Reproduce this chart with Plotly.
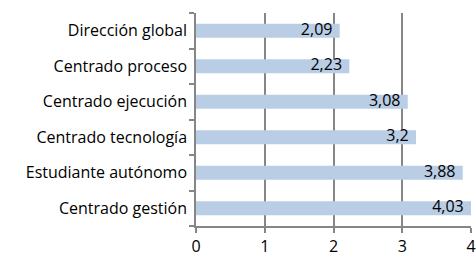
import plotly.graph_objects as go

categories = ["Centrado gestión", "Estudiante autónomo", "Centrado tecnología",
              "Centrado ejecución", "Centrado proceso", "Dirección global"]
values = [4.03, 3.88, 3.2, 3.08, 2.23, 2.09]
labels = ["4,03", "3,88", "3,2", "3,08", "2,23", "2,09"]
x_ticks = [0, 1, 2, 3, 4]
x_max = 4

FONT = "Open Sans"

fig = go.Figure()
fig.add_trace(go.Bar(
    y=categories, x=values, orientation="h",
    marker=dict(color="#B9CDE5", line=dict(width=0)),
    cliponaxis=True, hoverinfo="skip",
))
fig.add_trace(go.Scatter(
    y=categories, x=[min(v, x_max) for v in values],
    mode="markers+text", text=labels, textposition="middle left",
    marker=dict(size=10, color="rgba(0,0,0,0)"),
    textfont=dict(color="black", size=16, family=FONT),
    cliponaxis=False, hoverinfo="skip",
))

fig.update_layout(
    width=476, height=257,
    margin=dict(l=196, r=5, t=13, b=31, autoexpand=False),
    plot_bgcolor="white", paper_bgcolor="white",
    bargap=0.6, showlegend=False,
    font=dict(family=FONT, size=16, color="black"),
)
fig.update_xaxes(
    range=[0, x_max], tickvals=x_ticks, ticktext=[str(t) for t in x_ticks],
    showgrid=True, gridcolor="#868686", gridwidth=1.5,
    showline=True, linecolor="#868686", linewidth=1.5,
    ticks="outside", ticklen=5, tickcolor="#868686", tickwidth=1.5,
    zeroline=False, automargin=False, ticklabeloverflow="allow",
    ticklabelstandoff=0,
)
fig.update_yaxes(
    showline=True, linecolor="#868686", linewidth=1.5,
    ticks="outside", ticklen=5, tickcolor="#868686", tickwidth=1.5,
    tickson="boundaries", showgrid=False, ticklabelstandoff=4,
    automargin=False,
)

fig.write_html("out.html", config={"displayModeBar": False},
               post_script="document.body.style.margin='0';")
